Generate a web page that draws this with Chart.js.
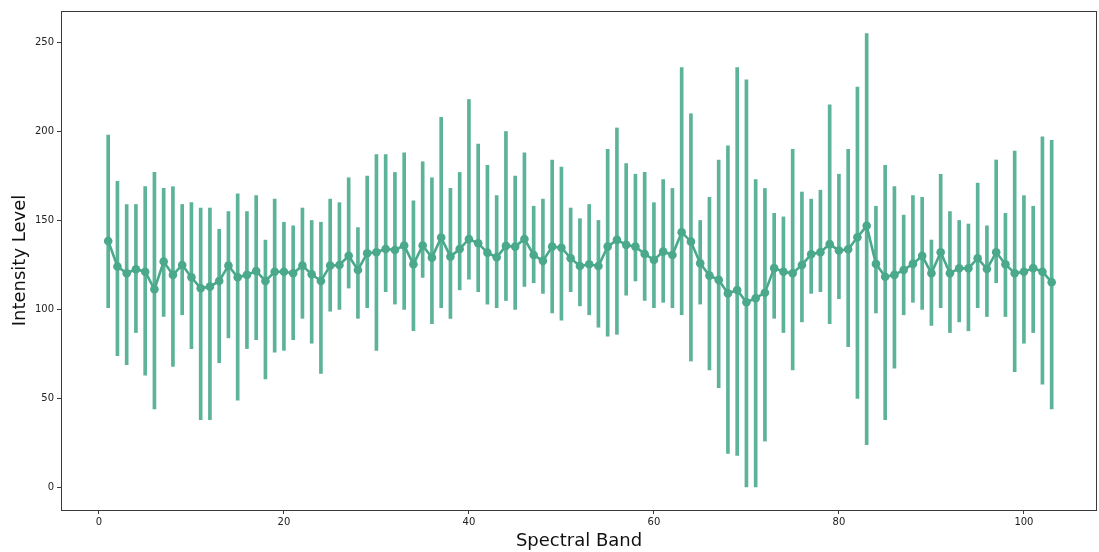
<!DOCTYPE html>
<html>
<head>
<meta charset="utf-8">
<script src="https://cdn.jsdelivr.net/npm/chart.js@4/dist/chart.umd.min.js"></script>
<style>
  html, body { margin: 0; padding: 0; background: #fff; }
  #wrap { width: 1099px; height: 552px; }
</style>
</head>
<body>
<div id="wrap"><canvas id="bandChart"></canvas></div>
<script>
// spectral bands 1..103
var bands = Array.from({ length: 103 }, (_, i) => i + 1);

var means = [
  138.5, 124.1, 120.3, 122.6, 121.2, 111.3, 126.9, 119.4, 125.0, 118.1,
  111.9, 112.8, 116.0, 124.6, 118.1, 119.4, 121.6, 116.0, 121.2, 121.2,
  120.3, 124.6, 119.8, 116.0, 124.6, 125.0, 130.1, 122.2, 131.6, 132.1,
  134.0, 133.4, 135.9, 125.4, 135.9, 129.1, 140.4, 129.7, 134.0, 139.6,
  137.2, 131.9, 129.3, 135.7, 135.3, 139.6, 130.6, 127.3, 135.3, 134.7,
  128.8, 124.4, 125.4, 124.4, 135.3, 139.1, 136.3, 135.3, 131.2, 127.8,
  132.5, 130.6, 143.4, 138.1, 126.0, 119.0, 116.6, 109.0, 110.9, 104.0,
  106.3, 109.4, 123.2, 121.2, 120.3, 125.0, 131.0, 132.1, 136.7, 133.1,
  133.8, 140.6, 147.0, 125.6, 118.4, 119.4, 122.2, 125.6, 130.1, 120.3,
  132.1, 120.3, 123.1, 123.1, 128.8, 122.7, 132.1, 125.4, 120.3, 121.2,
  123.2, 121.2, 115.3
];

var highs = [
  198, 172, 159, 159, 169, 177, 168, 169, 159, 160,
  157, 157, 145, 155, 165, 155, 164, 139, 162, 149,
  147, 157, 150, 149, 162, 160, 174, 146, 175, 187,
  187, 177, 188, 161, 183, 174, 208, 168, 177, 218,
  193, 181, 164, 200, 175, 188, 158, 162, 184, 180,
  157, 151, 159, 150, 190, 202, 182, 176, 177, 160,
  173, 168, 236, 210, 150, 163, 184, 192, 236, 229,
  173, 168, 154, 152, 190, 166, 162, 167, 215, 176,
  190, 225, 255, 158, 181, 169, 153, 164, 163, 139,
  176, 155, 150, 148, 171, 147, 184, 154, 189, 164,
  158, 197, 195
];

var lows = [
  101, 74, 69, 87, 63, 44, 96, 68, 97, 78,
  38, 38, 70, 84, 49, 78, 83, 61, 76, 77,
  83, 95, 81, 64, 99, 100, 112, 95, 101, 77,
  110, 103, 100, 88, 118, 92, 101, 95, 111, 117,
  110, 103, 101, 105, 100, 113, 115, 109, 98, 94,
  110, 102, 97, 90, 85, 86, 108, 116, 105, 101,
  104, 101, 97, 71, 103, 66, 56, 19, 18, 0,
  0, 26, 95, 87, 66, 93, 109, 110, 92, 106,
  79, 50, 24, 98, 38, 67, 97, 104, 100, 91,
  101, 87, 93, 88, 101, 96, 115, 96, 65, 81,
  87, 58, 44
];

var xTicks = [0, 20, 40, 60, 80, 100];
var yTicks = [0, 50, 100, 150, 200, 250];

var lineColor = '#4aa88b';
var barColor = 'rgba(74, 171, 142, 0.9)';

// box round the plot like matplotlib spines
var framePlugin = {
    id: 'frame',
    afterDatasetsDraw: function (chart) {
        var a = chart.chartArea;
        var c = chart.ctx;
        c.save();
        c.strokeStyle = '#3a3a3a';
        c.lineWidth = 1;
        c.strokeRect(a.left + 0.5, a.top + 0.5, a.right - a.left - 1, a.bottom - a.top);
        c.restore();
    }
};

var tickFont = { family: 'DejaVu Sans', size: 10 };

new Chart(document.getElementById('bandChart'), {
    type: 'bar',
    data: {
        datasets: [{
            type: 'line',
            label: 'mean',
            data: bands.map((b, i) => ({ x: b, y: means[i] })),
            borderColor: lineColor,
            backgroundColor: lineColor,
            borderWidth: 2.6,
            pointRadius: 4.3,
            pointBorderWidth: 0,
            tension: 0,
            order: 0
        }, {
            type: 'bar',
            label: 'range',
            data: bands.map((b, i) => ({ x: b, y: [lows[i], highs[i]] })),
            backgroundColor: barColor,
            borderWidth: 0,
            barThickness: 3,
            order: 1
        }]
    },
    options: {
        responsive: true,
        maintainAspectRatio: false,
        animation: false,
        // autoPadding off, otherwise the point radius adds a gap on the right
        layout: { autoPadding: false, padding: { top: 11, right: 2, left: 0, bottom: 0 } },
        plugins: {
            legend: { display: false },
            title: { display: false },
            tooltip: { enabled: false }
        },
        scales: {
            x: {
                type: 'linear',
                offset: false,
                min: -4.1,
                max: 107.9,
                afterBuildTicks: function (s) { s.ticks = xTicks.map(v => ({ value: v })); },
                afterFit: function (s) { s.height = 42; s.paddingLeft = 0; s.paddingRight = 0; },
                grid: { offset: false, drawOnChartArea: false, drawTicks: true, tickLength: 4, color: '#3a3a3a' },
                border: { display: false },
                ticks: { font: tickFont, color: '#222', padding: 2, maxRotation: 0 },
                title: {
                    display: true,
                    text: 'Spectral Band',
                    font: { family: 'DejaVu Sans', size: 18 },
                    color: '#111',
                    padding: { top: 2, bottom: 0 }
                }
            },
            y: {
                type: 'linear',
                min: -12.75,
                max: 267.75,
                afterBuildTicks: function (s) { s.ticks = yTicks.map(v => ({ value: v })); },
                afterFit: function (s) { s.width = 61; s.paddingTop = 0; s.paddingBottom = 0; },
                grid: { drawOnChartArea: false, drawTicks: true, tickLength: 4, color: '#3a3a3a' },
                border: { display: false },
                ticks: { font: tickFont, color: '#222', padding: 3 },
                title: {
                    display: true,
                    text: 'Intensity Level',
                    font: { family: 'DejaVu Sans', size: 18 },
                    color: '#111',
                    padding: { top: 10, bottom: 0 }
                }
            }
        }
    },
    plugins: [framePlugin]
});
</script>
</body>
</html>
